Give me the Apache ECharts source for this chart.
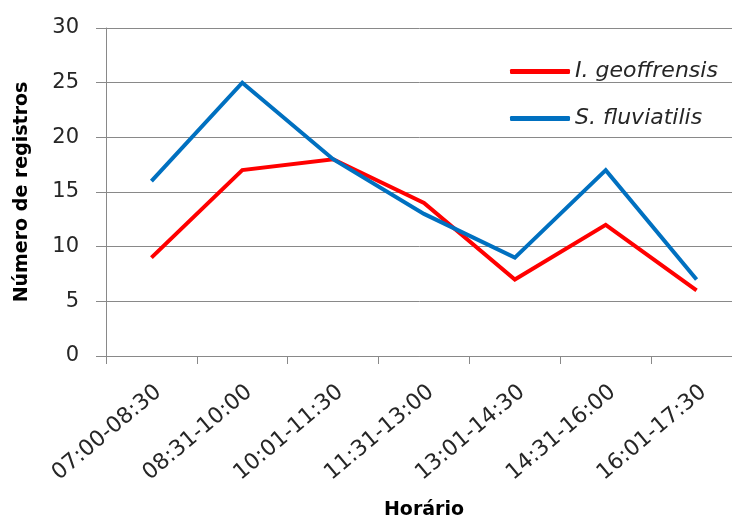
<!DOCTYPE html>
<html>
<head>
<meta charset="utf-8">
<script src="https://cdn.jsdelivr.net/npm/echarts@6/dist/echarts.min.js"></script>
<style>
  html, body { margin: 0; padding: 0; background: #fff; }
  #chart { width: 732px; height: 517px; }
</style>
</head>
<body>
<div id="chart"></div>
<script>
// Time slots of the day and number of sightings per species
const horarios = ['07:00-08:30', '08:31-10:00', '10:01-11:30', '11:31-13:00', '13:01-14:30', '14:31-16:00', '16:01-17:30'];
const geoffrensis = [9, 17, 18, 14, 7, 12, 6];
const fluviatilis = [16, 25, 18, 13, 9, 17, 7];
const yTicks = { min: 0, max: 30, interval: 5 };

const FONT = '"DejaVu Sans", sans-serif';
const GRID_GREY = '#898989';

const chart = echarts.init(document.getElementById('chart'));
chart.setOption({
  backgroundColor: '#ffffff',
  animation: false,
  grid: { left: 106, top: 28, right: -10, bottom: 161, outerBoundsMode: 'none', containLabel: false },
  legend: {
    orient: 'vertical',
    left: 505,
    top: 53,
    itemWidth: 60,
    itemHeight: 5,
    itemGap: 20,
    icon: 'roundRect',
    textStyle: { fontFamily: FONT, fontSize: 22, fontStyle: 'italic', color: '#262626', lineHeight: 27 },
    data: ['I. geoffrensis', 'S. fluviatilis']
  },
  xAxis: {
    type: 'category',
    data: horarios,
    boundaryGap: true,
    name: 'Horário',
    nameLocation: 'middle',
    nameGap: 145,
    nameTextStyle: { fontFamily: FONT, fontSize: 19, fontWeight: 'bold', color: '#000' },
    axisLine: { lineStyle: { color: GRID_GREY, width: 1 } },
    axisTick: { show: true, length: 8, lineStyle: { color: GRID_GREY } },
    axisLabel: {
      rotate: 40, margin: 25, align: 'right', verticalAlign: 'top',
      fontFamily: FONT, fontSize: 22, color: '#262626', interval: 0
    }
  },
  yAxis: {
    type: 'value',
    min: yTicks.min,
    max: yTicks.max,
    interval: yTicks.interval,
    name: 'Número de registros',
    nameLocation: 'middle',
    nameRotate: 90,
    nameGap: 74,
    nameTextStyle: { fontFamily: FONT, fontSize: 19, fontWeight: 'bold', color: '#000' },
    axisLine: { show: true, lineStyle: { color: GRID_GREY, width: 1 } },
    axisTick: { show: true, length: 10, lineStyle: { color: GRID_GREY } },
    splitLine: { show: true, lineStyle: { color: GRID_GREY, width: 1 } },
    axisLabel: { margin: 27, fontFamily: FONT, fontSize: 21, color: '#262626' }
  },
  series: [
    {
      name: 'I. geoffrensis',
      type: 'line',
      data: geoffrensis,
      showSymbol: false,
      color: '#ff0000',
      lineStyle: { width: 4, color: '#ff0000', join: 'miter' }
    },
    {
      name: 'S. fluviatilis',
      type: 'line',
      data: fluviatilis,
      showSymbol: false,
      color: '#0070c0',
      lineStyle: { width: 4, color: '#0070c0', join: 'miter' }
    }
  ]
});
</script>
</body>
</html>
